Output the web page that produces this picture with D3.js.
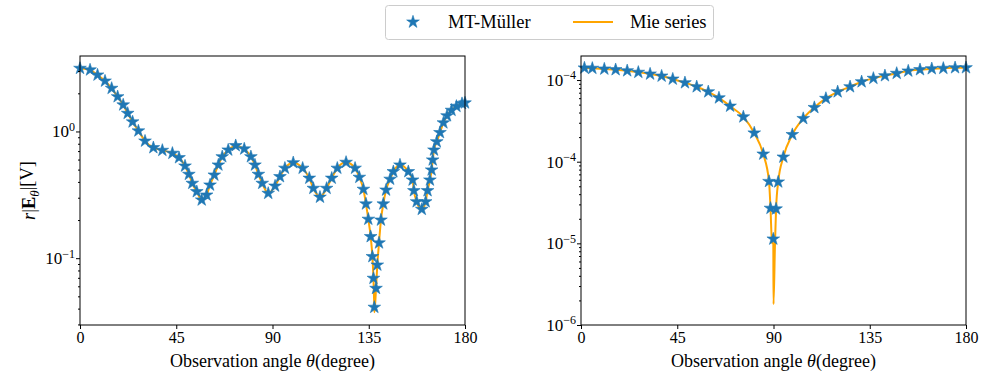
<!DOCTYPE html>
<html>
<head>
<meta charset="utf-8">
<script src="https://cdn.jsdelivr.net/npm/d3@7"></script>
<style>
    body { margin: 0; background: #fff; }
    svg text { font-family: "Liberation Serif", "DejaVu Serif", serif; fill: #000; }
</style>
</head>
<body>
<div id="content"></div>
<script>
/*
    Data: observation angle (degree) and r|E_theta|
*/
var leftTheta = [0, 4.7, 8.2, 11.7, 14.8, 17.6, 20.2, 22.3, 24.6, 27.3, 30.4, 34.3, 38.5, 43.2,
    46.3, 49.1, 50.9, 52.5, 54.6, 56.9, 59.2, 60.8, 62.8, 64.7, 66.5, 69.3, 72.8, 76.8, 79.9,
    81.8, 83.4, 85.2, 88.0, 91.2, 93.5, 95.8, 99.7, 104.1, 107.2, 109.1, 112.2, 115.3, 117.7,
    120.3, 124.4, 128.6, 130.6, 132.5, 133.7, 134.8, 135.9, 136.7, 137.2, 137.6, 138.4, 139.0,
    139.8, 140.7, 141.8, 143.1, 145.0, 146.5, 149.6, 153.5, 155.5, 156.1, 157.4, 159.8, 161.6,
    162.5, 163.6, 164.4, 164.9, 165.5, 166.8, 168.3, 169.9, 171.6, 173.7, 176.0, 178.6, 180];
var leftMuller = [3.15, 3.06, 2.79, 2.50, 2.19, 1.88, 1.62, 1.39, 1.19, 1.01, 0.84, 0.745, 0.71, 0.673,
    0.621, 0.534, 0.459, 0.390, 0.335, 0.288, 0.315, 0.378, 0.453, 0.544, 0.632, 0.714, 0.773, 0.728, 0.632,
    0.544, 0.459, 0.390, 0.325, 0.371, 0.440, 0.513, 0.567, 0.513, 0.428, 0.356, 0.303, 0.356, 0.428,
    0.513, 0.571, 0.513, 0.435, 0.350, 0.268, 0.203, 0.148, 0.103, 0.0694, 0.041, 0.0578, 0.0883,
    0.132, 0.200, 0.268, 0.345, 0.420, 0.482, 0.544, 0.482, 0.414, 0.341, 0.279, 0.243, 0.279,
    0.341, 0.414, 0.497, 0.596, 0.714, 0.830, 0.98, 1.17, 1.33, 1.47, 1.58, 1.66, 1.68];
// extra Mie samples where the curve goes below the stars
var leftMieTheta = [137.65];
var leftMie = [0.0375];

var rightTheta = [1.6, 5.3, 10.9, 16.2, 21.6, 26.8, 32.3, 37.7, 42.9, 48.6, 54.1, 59.5, 64.5, 69.7,
    75.9, 81.0, 85.2, 87.9, 88.6, 89.9, 91.2, 92.2, 94.6, 98.8, 103.9, 109.1, 114.5, 120.0, 125.8,
    131.2, 136.7, 142.1, 147.6, 153.0, 158.5, 164.0, 169.4, 174.9, 180];
var rightMuller = [1.406e-3, 1.393e-3, 1.365e-3, 1.340e-3, 1.300e-3, 1.245e-3, 1.186e-3, 1.119e-3,
    1.028e-3, 9.27e-4, 8.28e-4, 7.18e-4, 6.05e-4, 4.79e-4, 3.54e-4, 2.25e-4, 1.24e-4, 5.73e-5, 2.69e-5,
    1.13e-5, 2.64e-5, 5.65e-5, 1.14e-4, 2.15e-4, 3.38e-4, 4.61e-4, 5.96e-4, 7.18e-4, 8.28e-4, 9.53e-4,
    1.050e-3, 1.130e-3, 1.208e-3, 1.291e-3, 1.340e-3, 1.377e-3, 1.393e-3, 1.416e-3, 1.416e-3];
var rightMieTheta = [0, 89.3, 90, 90.7];
var rightMie = [1.41e-3, 1.0e-5, 1.8e-6, 1.0e-5];

var xTicks = [0, 45, 90, 135, 180];
var leftYTicks = [0.1, 1];
var leftYExp = ["\u22121", "0"];
var rightYTicks = [1e-6, 1e-5, 1e-4, 1e-3];
var rightYExp = ["\u22126", "\u22125", "\u22124", "\u22124"];

var xLabel = "Observation angle ";
var legendNames = ["MT-M\u00fcller", "Mie series"];

/*
    Layout
*/
var realW = 996, realH = 374;
var panelTop = 56, panelBottom = 325;
var starColor = "#1f77b4", mieColor = "#ffa500";
var starSize = 50;

var svg = d3.select("#content").append("svg")
    .attr("width", realW)
    .attr("height", realH);

function drawPanel(cfg) {
    var xScale = d3.scaleLinear().domain([0, 180]).range([cfg.x0, cfg.x1]);
    var yScale = d3.scaleLog().domain(cfg.yDomain).range([panelBottom, panelTop]);
    var g = svg.append("g");

    // merge stars with extra Mie samples for the line
    var line = cfg.theta.map(function (t, i) { return [t, cfg.muller[i]]; });
    if (cfg.mieTheta) {
        cfg.mieTheta.forEach(function (t, i) { line.push([t, cfg.mie[i]]); });
    }
    line.sort(function (a, b) { return a[0] - b[0]; });

    g.append("path")
        .datum(line)
        .attr("fill", "none")
        .attr("stroke", mieColor)
        .attr("stroke-width", 2)
        .attr("d", d3.line()
            .x(function (d) { return xScale(d[0]); })
            .y(function (d) { return yScale(d[1]); })
            .curve(d3.curveMonotoneX));

    g.append("g").selectAll("path")
        .data(cfg.theta)
        .enter()
        .append("path")
        .attr("d", d3.symbol().type(d3.symbolStar).size(starSize))
        .attr("transform", function (d, i) {
            return "translate(" + xScale(d) + "," + yScale(cfg.muller[i]) + ")";
        })
        .attr("fill", starColor)
        .attr("stroke", starColor)
        .attr("stroke-width", 0.6);

    // frame
    g.append("rect")
        .attr("x", cfg.x0).attr("y", panelTop)
        .attr("width", cfg.x1 - cfg.x0).attr("height", panelBottom - panelTop)
        .attr("fill", "none").attr("stroke", "#000").attr("stroke-width", 1);

    // x axis
    var xAxis = d3.axisBottom(xScale).tickValues(xTicks).tickSize(4).tickPadding(3);
    var xg = g.append("g").attr("transform", "translate(0," + panelBottom + ")").call(xAxis);
    xg.select(".domain").remove();
    xg.selectAll("text").style("font-size", "16px").attr("font-family", null);

    // minor y ticks
    var minor = yScale.ticks().filter(function (v) {
        return Math.abs(Math.log10(v) - Math.round(Math.log10(v))) > 1e-6;
    });
    var yMinor = g.append("g").attr("transform", "translate(" + cfg.x0 + ",0)")
        .call(d3.axisLeft(yScale).tickValues(minor).tickSize(2).tickFormat(""));
    yMinor.select(".domain").remove();

    // major y ticks with superscript labels
    var yMajor = g.append("g").attr("transform", "translate(" + cfg.x0 + ",0)")
        .call(d3.axisLeft(yScale).tickValues(cfg.yTicks).tickSize(4).tickPadding(4).tickFormat(""));
    yMajor.select(".domain").remove();
    yMajor.selectAll(".tick").each(function (d, i) {
        var t = d3.select(this).append("text")
            .attr("x", -5).attr("dy", "0.32em")
            .attr("text-anchor", "end")
            .style("font-size", "17px");
        t.append("tspan").text("10");
        t.append("tspan").attr("dy", "-0.55em").style("font-size", "12px").text(cfg.yExp[i]);
    });

    // x label
    var xl = g.append("text")
        .attr("x", (cfg.x0 + cfg.x1) / 2).attr("y", 367)
        .attr("text-anchor", "middle")
        .style("font-size", "18px");
    xl.append("tspan").text(xLabel);
    xl.append("tspan").style("font-style", "italic").text("\u03b8");
    xl.append("tspan").text("(degree)");
}

drawPanel({ x0: 80, x1: 465, yDomain: [0.0297, 3.94], theta: leftTheta, muller: leftMuller,
    mieTheta: leftMieTheta, mie: leftMie, yTicks: leftYTicks, yExp: leftYExp });
drawPanel({ x0: 581, x1: 966, yDomain: [1e-6, 1.97e-3], theta: rightTheta, muller: rightMuller,
    mieTheta: rightMieTheta, mie: rightMie, yTicks: rightYTicks, yExp: rightYExp });

/*
    y label of left panel: r|E_theta|[V]
*/
var yl = svg.append("text")
    .attr("transform", "translate(35," + ((panelTop + panelBottom) / 2) + ") rotate(-90)")
    .attr("text-anchor", "middle")
    .style("font-size", "18.5px");
yl.append("tspan").style("font-style", "italic").text("r");
yl.append("tspan").text("|");
yl.append("tspan").style("font-weight", "bold").text("E");
yl.append("tspan").attr("dy", "0.3em").style("font-size", "13px").style("font-style", "italic").text("\u03b8");
yl.append("tspan").attr("dy", "-0.3em").text("|[V]");

/*
    Legend
*/
var legend = svg.append("g");
legend.append("rect")
    .attr("x", 385.5).attr("y", 5.5).attr("width", 328).attr("height", 34)
    .attr("rx", 3).attr("ry", 3)
    .attr("fill", "#fff").attr("stroke", "#cccccc").attr("stroke-width", 1);
legend.append("path")
    .attr("d", d3.symbol().type(d3.symbolStar).size(starSize))
    .attr("transform", "translate(413,22)")
    .attr("fill", starColor).attr("stroke", starColor).attr("stroke-width", 0.6);
legend.append("text").attr("x", 448).attr("y", 28).style("font-size", "18.5px").text(legendNames[0]);
legend.append("line")
    .attr("x1", 573).attr("x2", 613).attr("y1", 22).attr("y2", 22)
    .attr("stroke", mieColor).attr("stroke-width", 2);
legend.append("text").attr("x", 630).attr("y", 28).style("font-size", "18.5px").text(legendNames[1]);
</script>
</body>
</html>
